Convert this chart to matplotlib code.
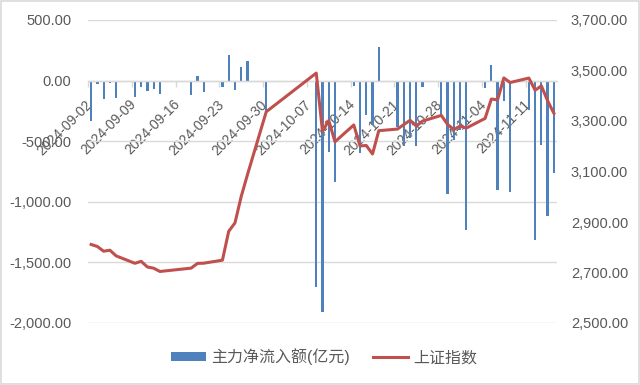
import matplotlib
matplotlib.use("Agg")
import matplotlib.pyplot as plt
import matplotlib.ticker as mticker
from matplotlib.patches import Rectangle
from matplotlib.transforms import ScaledTranslation
import pandas as pd

plt.rcParams['font.family'] = ['Liberation Sans', 'Noto Sans CJK SC']

dates = ["2024-09-02", "2024-09-03", "2024-09-04", "2024-09-05", "2024-09-06",
         "2024-09-09", "2024-09-10", "2024-09-11", "2024-09-12", "2024-09-13",
         "2024-09-18", "2024-09-19", "2024-09-20",
         "2024-09-23", "2024-09-24", "2024-09-25", "2024-09-26", "2024-09-27",
         "2024-09-30",
         "2024-10-08", "2024-10-09", "2024-10-10", "2024-10-11",
         "2024-10-14", "2024-10-15", "2024-10-16", "2024-10-17", "2024-10-18",
         "2024-10-21", "2024-10-22", "2024-10-23", "2024-10-24", "2024-10-25",
         "2024-10-28", "2024-10-29", "2024-10-30", "2024-10-31", "2024-11-01",
         "2024-11-04", "2024-11-05", "2024-11-06", "2024-11-07", "2024-11-08",
         "2024-11-11", "2024-11-12", "2024-11-13", "2024-11-14", "2024-11-15"]

net_inflow = [-330, -25, -155, -23, -147,
              -139, -51, -84, -70, -114,
              -120, 37, -92,
              -55, 215, -80, 115, 160,
              -250,
              -1700, -1907, -587, -835,
              -45, -601, -285, -367, 274,
              -381, -540, -477, -540, -56,
              -285, -939, -491, -408, -1233,
              -64, 128, -903, -166, -917,
              -243, -1316, -532, -1118, -760]

sh_index = [2811.04, 2802.98, 2784.28, 2788.31, 2765.81,
            2736.49, 2744.19, 2721.80, 2717.12, 2704.09,
            2717.28, 2736.02, 2736.81,
            2748.92, 2863.13, 2896.31, 3000.95, 3087.53,
            3336.50,
            3489.78, 3258.86, 3301.93, 3217.74,
            3284.32, 3201.29, 3202.95, 3169.38, 3261.56,
            3268.11, 3285.87, 3302.80, 3280.26, 3299.70,
            3322.20, 3286.41, 3266.24, 3279.82, 3272.01,
            3310.21, 3386.99, 3383.81, 3470.66, 3452.30,
            3470.07, 3421.97, 3439.28, 3379.84, 3330.73]

tick_dates = ["2024-09-02", "2024-09-09", "2024-09-16", "2024-09-23", "2024-09-30",
              "2024-10-07", "2024-10-14", "2024-10-21", "2024-10-28", "2024-11-04",
              "2024-11-11"]

left_ticks = [500, 0, -500, -1000, -1500, -2000]
right_ticks = [3700, 3500, 3300, 3100, 2900, 2700, 2500]

origin = pd.Timestamp("2024-09-02")
x = [(pd.Timestamp(d) - origin).days for d in dates]
xt = [(pd.Timestamp(d) - origin).days for d in tick_dates]
last_day = x[-1]

BLUE = '#4F81BD'
RED = '#C0504D'
GRID = '#D9D9D9'
TXT = '#595959'

fig = plt.figure(figsize=(6.4, 3.85), dpi=100)
ax = fig.add_axes([88/640, 1-323/385, (557-88)/640, (323-20)/385])
ax2 = ax.twinx()

ax.bar(x, net_inflow, width=0.36, color=BLUE, zorder=2, label='主力净流入额(亿元)')
ax2.plot(x, sh_index, color=RED, lw=2.2, zorder=3, label='上证指数')

ax.set_xlim(-0.5, last_day + 0.5)
ax.set_ylim(-2000, 500)
ax2.set_ylim(2500, 3700)

ax.set_yticks(left_ticks)
ax.yaxis.set_major_formatter(mticker.FuncFormatter(lambda v, p: f"{v:,.2f}"))
ax2.set_yticks(right_ticks)
ax2.yaxis.set_major_formatter(mticker.FuncFormatter(lambda v, p: f"{v:,.2f}"))

ax.grid(axis='y', color=GRID, lw=1.0, zorder=0)
ax.set_axisbelow(True)

for a in (ax, ax2):
    for s in ('top', 'left', 'right'):
        a.spines[s].set_visible(False)
ax2.spines['bottom'].set_visible(False)
ax.spines['bottom'].set_position(('data', 0))
ax.spines['bottom'].set_color(GRID)
ax.spines['bottom'].set_linewidth(1.0)

ax.set_xticks(xt)
ax.set_xticklabels(tick_dates, rotation=45, ha='right', rotation_mode='default')
ax.set_xticks([t - 0.5 for t in xt], minor=True)
ax.tick_params(axis='x', which='major', length=0, pad=12, labelsize=10, colors=TXT)
ax.tick_params(axis='x', which='minor', length=4, color=GRID, width=1)
shift = ScaledTranslation(4/100, 0, fig.dpi_scale_trans)
for lab in ax.get_xticklabels():
    lab.set_transform(lab.get_transform() + shift)
ax.tick_params(axis='y', length=0, pad=12, labelsize=10.5, colors=TXT)
ax2.tick_params(axis='y', length=0, pad=10, labelsize=10.5, colors=TXT)

h1, l1 = ax.get_legend_handles_labels()
h2, l2 = ax2.get_legend_handles_labels()
fig.legend(h1 + h2, l1 + l2, loc='center', bbox_to_anchor=(324/640, 1-357/385),
           ncol=2, frameon=False, fontsize=11.5, labelcolor=TXT,
           handlelength=2.2, handleheight=0.5, columnspacing=1.4, handletextpad=0.35)

fig.patches.append(Rectangle((0.0015, 0.002), 0.997, 0.996, transform=fig.transFigure,
                             fill=False, edgecolor=GRID, lw=1.2))

fig.savefig("out.png", dpi=100, facecolor='white')
